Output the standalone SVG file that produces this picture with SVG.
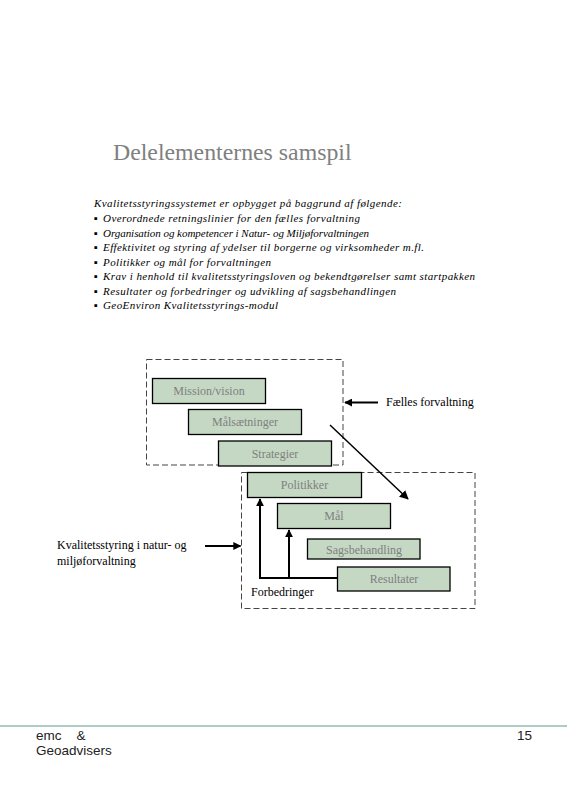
<svg xmlns="http://www.w3.org/2000/svg" width="567" height="794" viewBox="0 0 567 794">
<style>
.serif{font-family:"Liberation Serif","Times New Roman",serif}
.body{font-family:"Liberation Serif","Times New Roman",serif;font-style:italic;font-size:11px;fill:#000}
.box{fill:#c5d8c4;stroke:#000;stroke-width:1.3}
.btxt{font-family:"Liberation Serif","Times New Roman",serif;font-size:12px;fill:#7f7f7f;text-anchor:middle}
.lbl{font-family:"Liberation Serif","Times New Roman",serif;font-size:12px;fill:#000}
.dash{fill:none;stroke:#444;stroke-width:1;stroke-dasharray:6,3}
.con{stroke:#000;fill:none}
.foot{font-family:"Liberation Sans",Arial,sans-serif;font-size:13.5px;fill:#222}
</style>
<defs>
<marker id="ah" viewBox="0 0 10 10" refX="9" refY="5" markerWidth="4" markerHeight="4" orient="auto" markerUnits="strokeWidth">
<path d="M0,0 L10,5 L0,10 z" fill="#000"/>
</marker>
<marker id="ah2" viewBox="0 0 10 10" refX="9" refY="5" markerWidth="6" markerHeight="6" orient="auto" markerUnits="strokeWidth">
<path d="M0,0 L10,5 L0,10 z" fill="#000"/>
</marker>
</defs>
<rect width="567" height="794" fill="#fff"/>
<text x="113" y="160" class="serif" font-size="23.8" fill="#808080">Delelementernes samspil</text>
<g id="intro">
<text x="94" y="207" class="body" textLength="308" lengthAdjust="spacing">Kvalitetsstyringssystemet er opbygget på baggrund af følgende:</text>
<text x="94" y="222" class="body">▪</text><text x="103" y="222" class="body" textLength="257" lengthAdjust="spacing">Overordnede retningslinier for den fælles forvaltning</text>
<text x="94" y="236.5" class="body">▪</text><text x="103" y="236.5" class="body" textLength="266" lengthAdjust="spacing">Organisation og kompetencer i  Natur- og Miljøforvaltningen</text>
<text x="94" y="251" class="body">▪</text><text x="103" y="251" class="body" textLength="321" lengthAdjust="spacing">Effektivitet og styring af ydelser til borgerne og virksomheder m.fl.</text>
<text x="94" y="265.5" class="body">▪</text><text x="103" y="265.5" class="body" textLength="168" lengthAdjust="spacing">Politikker og mål for forvaltningen</text>
<text x="94" y="280" class="body">▪</text><text x="103" y="280" class="body" textLength="372" lengthAdjust="spacing">Krav i henhold til kvalitetsstyringsloven og bekendtgørelser samt startpakken</text>
<text x="94" y="294.5" class="body">▪</text><text x="103" y="294.5" class="body" textLength="293" lengthAdjust="spacing">Resultater og forbedringer og udvikling af sagsbehandlingen</text>
<text x="94" y="309" class="body">▪</text><text x="103" y="309" class="body" textLength="175" lengthAdjust="spacing">GeoEnviron Kvalitetsstyrings-modul</text>
</g>
<g id="frame-faelles"><rect x="146.5" y="359.5" width="196.5" height="105.5" class="dash"/></g>
<g id="frame-natur"><rect x="241.5" y="472.5" width="233.5" height="136" class="dash"/></g>
<g id="connectors">
<line x1="378" y1="402.5" x2="345" y2="402.5" class="con" stroke-width="2" marker-end="url(#ah)"/>
<line x1="330" y1="425" x2="408" y2="499" class="con" stroke-width="1.5" marker-end="url(#ah2)"/>
<line x1="205" y1="546" x2="240.5" y2="546" class="con" stroke-width="2" marker-end="url(#ah)"/>
<polyline points="337,578 260,578 260,499" class="con" stroke-width="2" marker-end="url(#ah)"/>
<line x1="289" y1="578" x2="289" y2="530" class="con" stroke-width="2" marker-end="url(#ah)"/>
</g>
<g id="n-mission"><rect x="152.5" y="378.5" width="113" height="25" class="box"/><text x="209" y="395" class="btxt">Mission/vision</text></g>
<g id="n-malsaetninger"><rect x="188.5" y="409.5" width="113" height="25" class="box"/><text x="245" y="426" class="btxt">Målsætninger</text></g>
<g id="n-strategier"><rect x="218.5" y="441" width="113" height="25" class="box"/><text x="275" y="458" class="btxt">Strategier</text></g>
<g id="n-politikker"><rect x="247.5" y="472.5" width="114" height="25" class="box"/><text x="304.5" y="489" class="btxt">Politikker</text></g>
<g id="n-mal"><rect x="277.5" y="503.5" width="113" height="25" class="box"/><text x="334" y="520" class="btxt">Mål</text></g>
<g id="n-sagsbehandling"><rect x="307.5" y="539" width="112.5" height="20" class="box"/><text x="364" y="553.5" class="btxt">Sagsbehandling</text></g>
<g id="n-resultater"><rect x="337.5" y="567" width="112.5" height="24" class="box"/><text x="394" y="583" class="btxt">Resultater</text></g>
<g id="labels">
<text x="386" y="406" class="lbl">Fælles forvaltning</text>
<text x="57" y="549" class="lbl">Kvalitetsstyring i natur- og</text>
<text x="57" y="565" class="lbl">miljøforvaltning</text>
<text x="251" y="596" class="lbl">Forbedringer</text>
</g>
<g id="footer">
<line x1="0" y1="726" x2="567" y2="726" stroke="#5f9a8a" stroke-width="1"/>
<text x="36" y="740" class="foot" xml:space="preserve">emc    &amp;</text>
<text x="36" y="755" class="foot">Geoadvisers</text>
<text x="517" y="740" class="foot">15</text>
</g>
</svg>
